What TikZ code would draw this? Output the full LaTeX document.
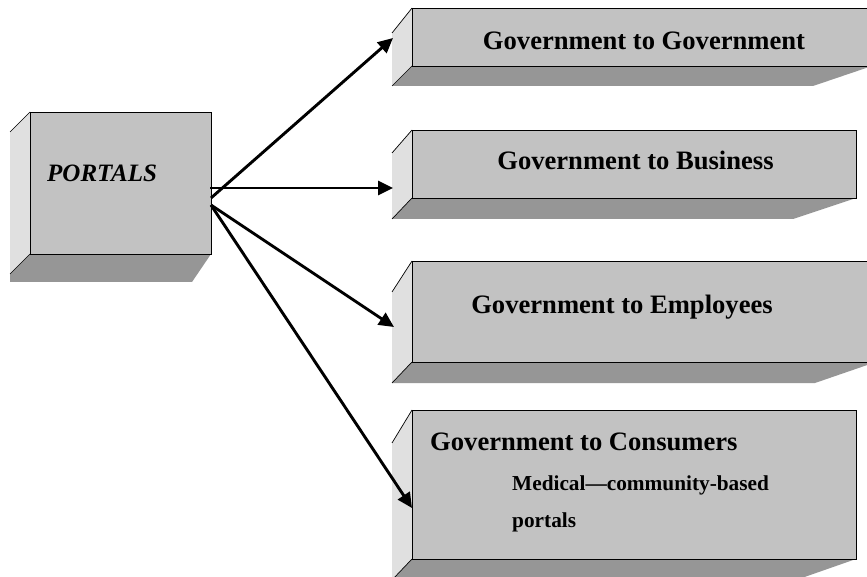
\documentclass[tikz,border=0pt]{standalone}
\usepackage{fontspec}
\setmainfont{Liberation Serif}
\usetikzlibrary{arrows.meta}
\definecolor{frontc}{RGB}{194,194,194}
\definecolor{sidec}{RGB}{224,224,224}
\definecolor{botc}{RGB}{150,150,150}
\begin{document}
\begin{tikzpicture}[x=1pt,y=-1pt,
  frontface/.style={fill=frontc,draw=black,line width=0.8pt},
  sideface/.style={fill=sidec},
  botface/.style={fill=botc},
  edgeline/.style={draw=black,line width=0.7pt},
  lbl/.style={font=\bfseries\fontsize{26.6}{30}\selectfont,inner sep=0pt},
  sublbl/.style={font=\bfseries\fontsize{21.3}{25}\selectfont,inner sep=0pt,anchor=base west},
  arr/.style={line width=2.9pt,-{Triangle[length=15pt,width=14pt]}}]
\useasboundingbox (0,0) rectangle (867,577);
\clip (0,0) rectangle (867,577);
\fill[white] (0,0) rectangle (867,577);

% PORTALS box
\fill[botface] (30,254) -- (211,254) -- (192,282) -- (10,282) -- (10,274) -- cycle;
\fill[sideface] (10,132) -- (30,112) -- (30,254) -- (10,274) -- cycle;
\draw[edgeline] (10,132) -- (30,112);
\draw[edgeline] (30,254) -- (10,274);
\draw[frontface] (30,112) rectangle (211,254);
\node[font=\bfseries\itshape\fontsize{25}{30}\selectfont,inner sep=0pt,anchor=base west] (portals) at (47,182) {PORTALS};

% Government to Government
\fill[botface] (412,66) -- (872,66) -- (813,86) -- (392,86) -- cycle;
\fill[sideface] (392,33) -- (412,8) -- (412,66) -- (392,86) -- cycle;
\draw[edgeline] (392,33) -- (412,8);
\draw[edgeline] (412,66) -- (392,86);
\draw[frontface] (412,8) rectangle (872,66);
\node[lbl,anchor=base] (g2g) at (644,50) {Government to Government};

% Government to Business
\fill[botface] (412,198) -- (856,198) -- (793,219) -- (392,219) -- cycle;
\fill[sideface] (392,153) -- (412,130) -- (412,198) -- (392,219) -- cycle;
\draw[edgeline] (392,153) -- (412,130);
\draw[edgeline] (412,198) -- (392,219);
\draw[frontface] (412,130) rectangle (856,198);
\node[lbl,anchor=base] (g2b) at (635.5,170) {Government to Business};

% Government to Employees
\fill[botface] (412,362) -- (876,362) -- (815,383) -- (392,383) -- cycle;
\fill[sideface] (392,292) -- (412,261) -- (412,362) -- (392,383) -- cycle;
\draw[edgeline] (392,292) -- (412,261);
\draw[edgeline] (412,362) -- (392,383);
\draw[frontface] (412,261) rectangle (872,362);
\node[lbl,anchor=base] (g2e) at (622,313) {Government to Employees};

% Government to Consumers
\fill[botface] (412,559) -- (856,559) -- (796,580) -- (392,580) -- cycle;
\fill[sideface] (392,443) -- (412,410) -- (412,559) -- (392,580) -- cycle;
\draw[edgeline] (392,443) -- (412,410);
\draw[edgeline] (412,559) -- (392,580);
\draw[frontface] (412,410) rectangle (856,559);
\node[lbl,anchor=base west] (g2c) at (430,450) {Government to Consumers};
\node[sublbl] (med) at (512,490) {Medical---community-based};
\node[sublbl] (med2) at (512,527) {portals};

% connectors
\coordinate (s1) at (211,198);
\coordinate (s2) at (210,188);
\coordinate (s3) at (211,205);
\coordinate (t1) at (393,38);
\coordinate (t2) at (393,188);
\coordinate (t3) at (394,327);
\coordinate (t4) at (412,508);
\draw[arr] (s1) -- (t1);
\draw[arr] (s2) -- (t2);
\draw[arr] (s3) -- (t3);
\draw[arr] (s3) -- (t4);
\end{tikzpicture}
\end{document}
